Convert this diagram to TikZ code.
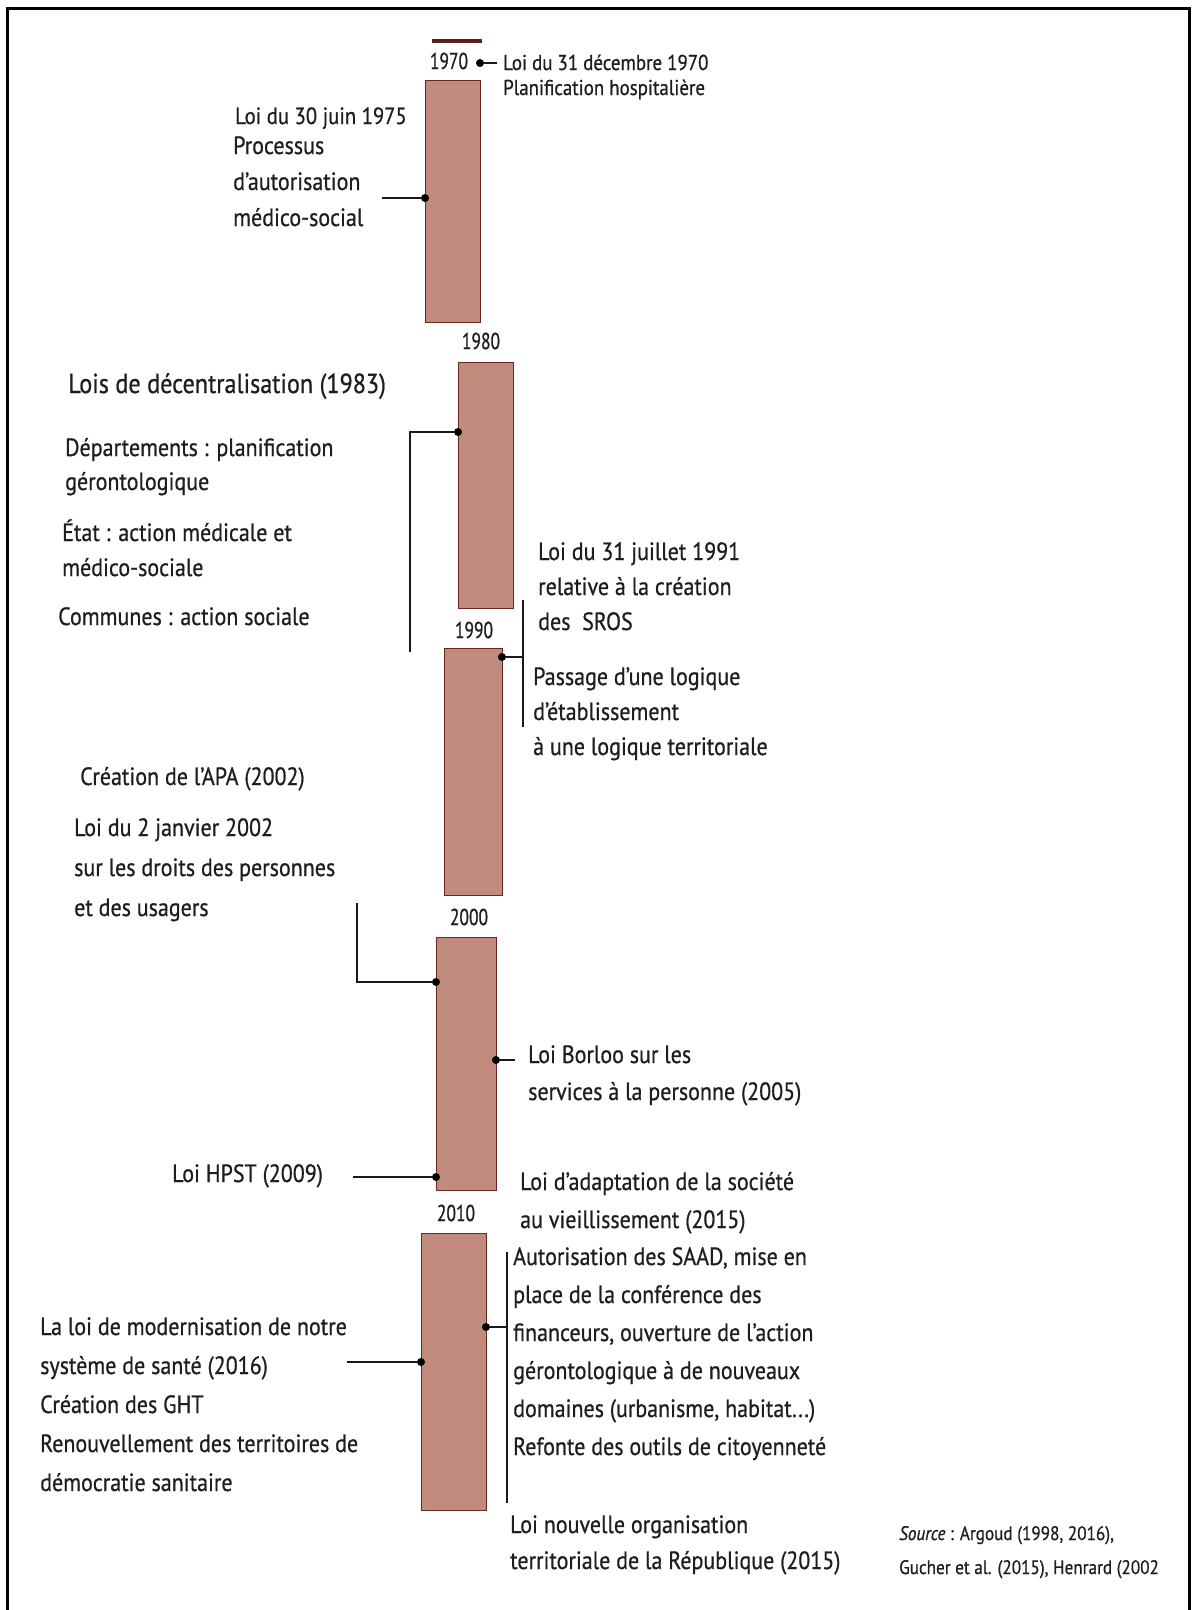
\documentclass[tikz,border=0pt]{standalone}
\usepackage{fontspec}
\setmainfont{PT Sans}[FakeStretch=0.88, FakeBold=0.7]
\definecolor{barfill}{RGB}{192,138,124}
\definecolor{barline}{RGB}{105,40,32}
\definecolor{ink}{RGB}{30,30,30}
\begin{document}
\begin{tikzpicture}[x=1pt,y=-1pt,
  bar/.style={draw=barline, fill=barfill, line width=1.3pt, inner sep=0pt, anchor=north west},
  yr/.style={text=ink, inner sep=0pt, font=\fontsize{23}{26}\selectfont\addfontfeatures{FakeStretch=0.76}},
  dot/.style={circle, fill=black, inner sep=0pt, minimum size=8pt},
  conn/.style={line width=1.7pt, draw=black!90},
  txt/.style={text=ink, inner sep=0pt, anchor=base west, align=left},
  norm/.style={font=\fontsize{25}{#1}\selectfont},
  big/.style={font=\fontsize{27.5}{30}\selectfont},
  topbar/.style={line width=3.5pt, draw=barline!85!black}]
\useasboundingbox (0,0) rectangle (1192,1610);
% frame
\draw[line width=3pt] (7,1610) -- (7,8) -- (1189,8) -- (1189,1610);
% bars
\node[bar, minimum width=55pt, minimum height=242pt] (R1) at (425,80) {};
\node[bar, minimum width=55pt, minimum height=246pt] (R2) at (458,362) {};
\node[bar, minimum width=58pt, minimum height=247pt] (R3) at (444,648) {};
\node[bar, minimum width=60pt, minimum height=253pt] (R4) at (436,937) {};
\node[bar, minimum width=65pt, minimum height=277pt] (R5) at (421,1233) {};
\coordinate (tb1) at (432,41);
\coordinate (tb2) at (482,41);
\draw[topbar] (tb1) -- (tb2);
% years
\node[yr] (y1970) at (449,61) {1970};
\node[yr] (y1980) at (481,341) {1980};
\node[yr] (y1990) at (474,630) {1990};
\node[yr] (y2000) at (469,917) {2000};
\node[yr] (y2010) at (456,1213) {2010};
% dots
\node[dot] (d70) at (480,63) {};
\node[dot] (d75) at (425,198) {};
\node[dot] (d83) at (458,432) {};
\node[dot] (d91) at (502,657) {};
\node[dot] (d02) at (436,982) {};
\node[dot] (d05) at (496,1060) {};
\node[dot] (d09) at (436,1177) {};
\node[dot] (d15) at (486,1327) {};
\node[dot] (d16) at (421,1362) {};
% connector ends
\coordinate (c70) at (497,63);
\coordinate (c75) at (382,198);
\coordinate (c83a) at (410,432);
\coordinate (c83b) at (410,652);
\coordinate (c91) at (523,657);
\coordinate (b91t) at (523,600);
\coordinate (b91b) at (523,727);
\coordinate (c02a) at (357,982);
\coordinate (c02b) at (357,903);
\coordinate (c05) at (515,1060);
\coordinate (c09) at (353,1177);
\coordinate (c15) at (507,1327);
\coordinate (b15t) at (507,1252);
\coordinate (b15b) at (507,1503);
\coordinate (c16) at (347,1362);
\draw[conn] (d70) -- (c70);
\draw[conn] (d75) -- (c75);
\draw[conn] (d83) -- (c83a) -- (c83b);
\draw[conn] (d91) -- (c91);
\draw[conn] (b91t) -- (b91b);
\draw[conn] (d02) -- (c02a) -- (c02b);
\draw[conn] (d05) -- (c05);
\draw[conn] (d09) -- (c09);
\draw[conn] (d15) -- (c15);
\draw[conn] (b15t) -- (b15b);
\draw[conn] (d16) -- (c16);
% texts (anchor = baseline of last line)
\node[txt, font=\fontsize{21.5}{25}\selectfont] (t70) at (503,95) {Loi du 31 décembre 1970\\Planification hospitalière};
\node[txt, font=\fontsize{23.5}{30}\selectfont] (t75a) at (235,124) {Loi du 30 juin 1975};
\node[txt, norm=36] (t75b) at (233,226) {Processus\\d'autorisation\\médico-social};
\node[txt, big] (t83a) at (68,393) {Lois de décentralisation (1983)};
\node[txt, norm=34] (t83b) at (65,490) {Départements : planification\\gérontologique};
\node[txt, norm=35] (t83c) at (62,576) {État : action médicale et\\médico-sociale};
\node[txt, norm=35] (t83d) at (58,625) {Communes : action sociale};
\node[txt, norm=35] (t91a) at (538,630) {Loi du 31 juillet 1991\\relative à la création\\des\ \ SROS};
\node[txt, norm=35] (t91b) at (533,755) {Passage d'une logique\\d'établissement\\à une logique territoriale};
\node[txt, norm=35] (t02a) at (80,785) {Création de l'APA (2002)};
\node[txt, norm=40] (t02b) at (74,916) {Loi du 2 janvier 2002\\sur les droits des personnes\\et des usagers};
\node[txt, norm=37] (t05) at (528,1100) {Loi Borloo sur les\\services à la personne (2005)};
\node[txt, norm=35] (t09) at (172,1182) {Loi HPST (2009)};
\node[txt, norm=38] (t15a) at (520,1228) {Loi d'adaptation de la société\\au vieillissement (2015)};
\node[txt, norm=38] (t15b) at (513,1455) {Autorisation des SAAD, mise en\\place de la conférence des\\financeurs, ouverture de l'action\\gérontologique à de nouveaux\\domaines (urbanisme, habitat...)\\Refonte des outils de citoyenneté};
\node[txt, norm=36] (t15c) at (510,1569) {Loi nouvelle organisation\\territoriale de la République (2015)};
\node[txt, norm=39] (t16) at (40,1491) {La loi de modernisation de notre\\système de santé (2016)\\Création des GHT\\Renouvellement des territoires de\\démocratie sanitaire};
\node[txt, font=\fontsize{19.5}{34}\selectfont] (src) at (899,1574) {\textit{Source} : Argoud (1998, 2016),\\Gucher et al. (2015), Henrard (2002};
\end{tikzpicture}
\end{document}
